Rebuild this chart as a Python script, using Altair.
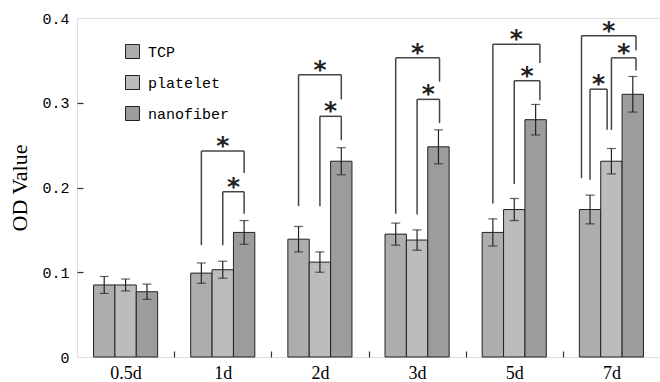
import altair as alt
import pandas as pd

groups = ["0.5d", "1d", "2d", "3d", "5d", "7d"]
series = ["TCP", "platelet", "nanofiber"]
tcp = [0.085, 0.099, 0.139, 0.145, 0.147, 0.174]
tcp_err = [0.010, 0.012, 0.015, 0.013, 0.016, 0.017]
platelet = [0.085, 0.103, 0.112, 0.138, 0.174, 0.231]
platelet_err = [0.007, 0.010, 0.012, 0.012, 0.013, 0.015]
nanofiber = [0.077, 0.147, 0.231, 0.248, 0.280, 0.310]
nanofiber_err = [0.009, 0.014, 0.016, 0.020, 0.018, 0.021]

# significance brackets: group index, left / right series position,
# top of bracket, bottom of left leg, bottom of right leg
br_group = [1, 1, 2, 2, 3, 3, 4, 4, 5, 5, 5]
br_from = [0, 1, 0, 1, 0, 1, 0, 1, -0.4, 0, 1]
br_to = [2, 2, 2, 2, 2.05, 2.05, 2.2, 2.2, 2.15, 0.8, 2.15]
br_top = [0.243, 0.195, 0.333, 0.284, 0.353, 0.304, 0.369, 0.326, 0.379, 0.316, 0.353]
br_left_end = [0.132, 0.132, 0.178, 0.178, 0.169, 0.168, 0.181, 0.204, 0.211, 0.209, 0.268]
br_right_end = [0.217, 0.169, 0.304, 0.256, 0.325, 0.276, 0.347, 0.303, 0.362, 0.268, 0.338]
star_label = "*"

fills = ["#adadad", "#bcbcbc", "#9c9c9c"]

W, H = 583, 339
BW = 0.22  # bar width in group units

rows = []
vals = [tcp, platelet, nanofiber]
errs = [tcp_err, platelet_err, nanofiber_err]
for si, s in enumerate(series):
    for gi, g in enumerate(groups):
        pos = gi + (si - 1) * BW
        v, e = vals[si][gi], errs[si][gi]
        rows.append(dict(group=g, series=s, value=v, pos=pos,
                         x0=pos - BW / 2, x1=pos + BW / 2, lo=v - e, hi=v + e))
bars_df = pd.DataFrame(rows)

seg_rows, star_rows = [], []
for g, a, b, top, lb, rb in zip(br_group, br_from, br_to, br_top, br_left_end, br_right_end):
    xl = g + (a - 1) * BW
    xr = g + (b - 1) * BW
    seg_rows.append(dict(x=xl, x2=xl, y=lb, y2=top))
    seg_rows.append(dict(x=xl, x2=xr, y=top, y2=top))
    seg_rows.append(dict(x=xr, x2=xr, y=rb, y2=top))
    star_rows.append(dict(x=(xl + xr) / 2, y=top, t=star_label))
seg_df = pd.DataFrame(seg_rows)
star_df = pd.DataFrame(star_rows)

xs = alt.Scale(domain=[-0.5, 5.5], nice=False, zero=False)
ys = alt.Scale(domain=[0, 0.4], nice=False, zero=True)

label_expr = "[" + ",".join("'%s'" % g for g in groups) + "][datum.value]"

bottom_axis = alt.Axis(orient="bottom", values=list(range(len(groups))), labelExpr=label_expr,
                       ticks=False, domain=False, grid=False, labelFont="Liberation Serif",
                       labelFontSize=18, labelColor="black", labelPadding=7, title=None)
top_axis = alt.Axis(orient="top", offset=-H, values=[0.5, 1.5, 2.5, 3.5, 4.5], labels=False,
                    domain=False, ticks=True, tickSize=6, tickColor="#333", tickWidth=1.2,
                    grid=False, title=None)
left_axis = alt.Axis(orient="left", values=[0, 0.1, 0.2, 0.3, 0.4],
                     labelExpr="datum.value == 0 ? '0' : format(datum.value, '.1f')",
                     ticks=False, domain=False, grid=False, labelFont="Liberation Mono",
                     labelFontSize=15, labelColor="black", labelPadding=8,
                     title="OD Value", titleFont="Liberation Serif", titleFontSize=22,
                     titleFontWeight="normal", titleColor="black", titleAngle=270,
                     titleX=-58, titleY=H / 2, titleAlign="center", titleBaseline="middle")
right_axis = alt.Axis(orient="right", offset=-W, values=[0.1, 0.2, 0.3], labels=False,
                      domain=False, ticks=True, tickSize=6, tickColor="#333", tickWidth=1.2,
                      grid=False, title=None)

bars = alt.Chart(bars_df).mark_bar(stroke="#222", strokeWidth=1).encode(
    x=alt.X("x0:Q", scale=xs, axis=bottom_axis),
    x2="x1:Q",
    y=alt.Y("value:Q", scale=ys, axis=left_axis),
    y2=alt.datum(0),
    fill=alt.Fill("series:N", scale=alt.Scale(domain=series, range=fills), sort=series,
                  legend=alt.Legend(orient="none", legendX=48, legendY=26, title=None,
                                    symbolType="square", symbolSize=196,
                                    symbolStrokeColor="#222", symbolStrokeWidth=1,
                                    labelFont="Liberation Mono", labelFontSize=15,
                                    labelColor="black", labelOffset=8, rowPadding=12,
                                    padding=0)),
)

err = alt.Chart(bars_df).mark_rule(color="#222", strokeWidth=1.2).encode(
    x=alt.X("pos:Q", scale=xs, axis=top_axis),
    y=alt.Y("lo:Q", scale=ys, axis=right_axis),
    y2="hi:Q",
)
cap_lo = alt.Chart(bars_df).mark_tick(orient="horizontal", size=9, thickness=1.2, color="#222").encode(
    x=alt.X("pos:Q", scale=xs, axis=None), y=alt.Y("lo:Q", scale=ys, axis=None))
cap_hi = alt.Chart(bars_df).mark_tick(orient="horizontal", size=9, thickness=1.2, color="#222").encode(
    x=alt.X("pos:Q", scale=xs, axis=None), y=alt.Y("hi:Q", scale=ys, axis=None))

brackets = alt.Chart(seg_df).mark_rule(color="#444", strokeWidth=1.5).encode(
    x=alt.X("x:Q", scale=xs, axis=None), x2="x2:Q",
    y=alt.Y("y:Q", scale=ys, axis=None), y2="y2:Q",
)
stars = alt.Chart(star_df).mark_text(font="DejaVu Sans", fontSize=25, fontWeight="bold",
                                     color="#222", baseline="alphabetic", dy=3).encode(
    x=alt.X("x:Q", scale=xs, axis=None), y=alt.Y("y:Q", scale=ys, axis=None), text="t:N")

chart = alt.layer(bars, err, cap_lo, cap_hi, brackets, stars).resolve_axis(
    x="independent", y="independent"
).properties(
    width=W, height=H,
    autosize=alt.AutoSizeParams(type="none"),
    padding={"left": 77, "top": 18, "right": 0, "bottom": 25},
).configure_view(stroke="#444", strokeWidth=1.5).configure(background="white")

chart.save("out.html", embed_options={"renderer": "svg", "actions": False})
